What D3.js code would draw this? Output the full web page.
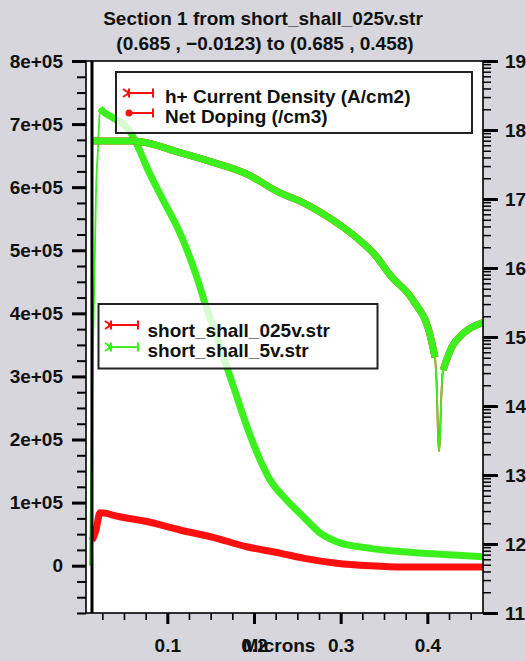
<!DOCTYPE html>
<html><head><meta charset="utf-8">
<script src="https://cdn.jsdelivr.net/npm/d3@7"></script>
<style>
body{margin:0;background:#d6d6dc;}
svg{display:block;font-family:"Liberation Sans",Arial,sans-serif;font-weight:bold;}
</style></head><body>
<svg id="c" width="526" height="661"></svg>
<script>
// ---------------- data ----------------
const titleLines = ["Section 1 from short_shall_025v.str", "(0.685 , \u22120.0123) to (0.685 , 0.458)"];
const xLabel = "Microns";
const xRange = [0.0062, 0.4642];
const xMajorTicks = [0.1, 0.2, 0.3, 0.4];
const xTickLabels = ["0.1", "0.2", "0.3", "0.4"];
const leftRange = [-7.5e4, 8e5];
const leftTicks = [0, 1e5, 2e5, 3e5, 4e5, 5e5, 6e5, 7e5, 8e5];
const leftTickLabels = ["0", "1e+05", "2e+05", "3e+05", "4e+05", "5e+05", "6e+05", "7e+05", "8e+05"];
const rightRange = [1e11, 1e19];
const rightTicks = [1e11, 1e12, 1e13, 1e14, 1e15, 1e16, 1e17, 1e18, 1e19];
const rightTickLabels = ["11", "12", "13", "14", "15", "16", "17", "18", "19"];
const interfaceX = 0.0131;

const quantityNames = ["h+ Current Density (A/cm2)", "Net Doping (/cm3)"];
const fileNames = ["short_shall_025v.str", "short_shall_5v.str"];

// h+ current density, short_shall_025v.str (A/cm2)
const cur025X = [0.0131, 0.0175, 0.0224, 0.0300, 0.0374, 0.0762, 0.1147, 0.1527, 0.1916, 0.2300, 0.2566, 0.2955, 0.3339, 0.3720, 0.4108, 0.4642];
const cur025V = [4.0e4, 5.5e4, 8.4e4, 8.3e4, 8.0e4, 7.0e4, 5.66e4, 4.5e4, 3.0e4, 2.0e4, 1.2e4, 0.4e4, 0, -0.2e4, -0.2e4, -0.2e4];
// h+ current density, short_shall_5v.str (A/cm2)
const cur5X = [0.0108, 0.0143, 0.0160, 0.0177, 0.0200, 0.0224, 0.0258, 0.0374, 0.0570, 0.0662, 0.0762, 0.0950, 0.1147, 0.1339, 0.1435, 0.1570, 0.1758, 0.1954, 0.2185, 0.2377, 0.2566, 0.2762, 0.2955, 0.3339, 0.3720, 0.4108, 0.4642];
const cur5V = [0, 3.5e5, 4.6e5, 5.9e5, 6.6e5, 7.25e5, 7.2e5, 7.1e5, 6.88e5, 6.64e5, 6.32e5, 5.8e5, 5.27e5, 4.58e5, 4.16e5, 3.63e5, 2.86e5, 2.07e5, 1.36e5, 1.04e5, 0.78e5, 0.52e5, 0.38e5, 0.275e5, 0.22e5, 0.185e5, 0.14e5];
// net doping (|/cm3|), same for both files
const dopX = [0.0143, 0.0604, 0.1147, 0.1527, 0.1916, 0.2300, 0.2531, 0.2762, 0.2993, 0.3223, 0.3396, 0.3570, 0.3835, 0.4031, 0.4088, 0.4111, 0.4123, 0.4135, 0.4146, 0.4158, 0.4181, 0.4281, 0.4412, 0.4642];
const dopV = [6.9e17, 6.9e17, 4.7e17, 3.4e17, 2.3e17, 1.23e17, 9.3e16, 6.5e16, 4.2e16, 2.5e16, 1.55e16, 7.9e15, 3.4e15, 1.07e15, 5.1e14, 1.5e14, 3.8e13, 2.2e13, 3.5e13, 1.07e14, 3.3e14, 7.1e14, 1.12e15, 1.62e15];

// ---------------- drawing ----------------
const RED = "#ff1010", GREEN = "#3cf01e";
const svg = d3.select("#c");
const P = {l: 86, r: 483, t: 61, b: 613};

const x = d3.scaleLinear().domain(xRange).range([P.l, P.r]);
const yL = d3.scaleLinear().domain(leftRange).range([P.b, P.t]);
const yR = d3.scaleLog().domain(rightRange).range([P.b, P.t]);

svg.append("rect").attr("width", 526).attr("height", 661).attr("fill", "#d6d6dc");
svg.append("rect").attr("x", P.l).attr("y", P.t).attr("width", P.r - P.l).attr("height", P.b - P.t).attr("fill", "#fff");

svg.append("clipPath").attr("id", "clip").append("rect")
  .attr("x", P.l).attr("y", P.t).attr("width", P.r - P.l).attr("height", P.b - P.t);
const g = svg.append("g").attr("clip-path", "url(#clip)");

function drawSeries(xs, vs, ys, color) {
  const pts = xs.map((d, i) => [x(d), ys(vs[i])]);
  const line = d3.line().curve(d3.curveMonotoneX);
  g.append("path").attr("d", line(pts)).attr("fill", "none")
    .attr("stroke", color).attr("stroke-width", 1.8);
  let run = [];
  const flush = () => {
    if (run.length > 1) g.append("path").attr("d", line(run)).attr("fill", "none")
      .attr("stroke", color).attr("stroke-width", 7).attr("stroke-linejoin", "round").attr("stroke-linecap", "butt");
    run = [];
  };
  for (let i = 0; i < pts.length - 1; i++) {
    const dx = pts[i + 1][0] - pts[i][0], dy = Math.abs(pts[i + 1][1] - pts[i][1]);
    if (dy / dx < 6) { if (!run.length) run.push(pts[i]); run.push(pts[i + 1]); }
    else flush();
  }
  flush();
}

drawSeries(cur025X, cur025V, yL, RED);
drawSeries(cur5X, cur5V, yL, GREEN);
drawSeries(dopX, dopV, yR, RED);
drawSeries(dopX, dopV, yR, GREEN);

// interface line
svg.append("line").attr("x1", x(interfaceX)).attr("x2", x(interfaceX)).attr("y1", P.t).attr("y2", P.b)
  .attr("stroke", "#000").attr("stroke-width", 3);

// frame
svg.append("rect").attr("x", P.l).attr("y", P.t).attr("width", P.r - P.l).attr("height", P.b - P.t)
  .attr("fill", "none").attr("stroke", "#000").attr("stroke-width", 1.6);

function styleAxis(sel, majorW) {
  sel.select(".domain").remove();
  sel.selectAll(".tick line").attr("stroke", "#000").attr("stroke-width", majorW);
  sel.selectAll("text").attr("font-size", 19).attr("font-weight", "bold")
    .attr("font-family", '"Liberation Sans",Arial,sans-serif').attr("fill", "#111");
}

// left axis
const leftMinor = d3.range(-7.5e4, 8e5 + 1, 2.5e4).filter(v => Math.abs(v % 1e5) > 1);
svg.append("g").attr("transform", `translate(${P.l},0)`)
  .call(d3.axisLeft(yL).tickValues(leftMinor).tickSize(9).tickFormat(""))
  .call(s => styleAxis(s, 2));
svg.append("g").attr("transform", `translate(${P.l},0)`)
  .call(d3.axisLeft(yL).tickValues(leftTicks).tickSize(14).tickPadding(9)
    .tickFormat((d, i) => leftTickLabels[i]))
  .call(s => styleAxis(s, 3));

// right axis (log)
const rightMinor = [];
for (let e = 11; e < 19; e++) for (let m = 2; m <= 9; m++) rightMinor.push(m * Math.pow(10, e));
svg.append("g").attr("transform", `translate(${P.r},0)`)
  .call(d3.axisRight(yR).tickValues(rightMinor).tickSize(8).tickFormat(""))
  .call(s => styleAxis(s, 1.5));
svg.append("g").attr("transform", `translate(${P.r},0)`)
  .call(d3.axisRight(yR).tickValues(rightTicks).tickSize(15).tickPadding(7)
    .tickFormat((d, i) => rightTickLabels[i]))
  .call(s => styleAxis(s, 3));

// bottom axis
const xMinor = d3.range(0.025, 0.4642, 0.025).filter(v => Math.abs(v * 10 - Math.round(v * 10)) > 1e-6);
svg.append("g").attr("transform", `translate(0,${P.b})`)
  .call(d3.axisBottom(x).tickValues(xMinor).tickSize(7).tickFormat(""))
  .call(s => styleAxis(s, 1.6));
svg.append("g").attr("transform", `translate(0,${P.b})`)
  .call(d3.axisBottom(x).tickValues(xMajorTicks).tickSize(11).tickPadding(14.5)
    .tickFormat((d, i) => xTickLabels[i]))
  .call(s => styleAxis(s, 3));

const T = (xx, yy, s, anchor) => svg.append("text").attr("x", xx).attr("y", yy).text(s)
  .attr("font-size", 19).attr("fill", "#111").attr("text-anchor", anchor || "start");

T(279, 652, xLabel, "middle");
T(263, 25, titleLines[0], "middle");
T(265, 50, titleLines[1], "middle");

// legends
function legendBox(x0, y0, x1, y1) {
  svg.append("rect").attr("x", x0).attr("y", y0).attr("width", x1 - x0).attr("height", y1 - y0)
    .attr("fill", "#fff").attr("fill-opacity", 0.8).attr("stroke", "#222").attr("stroke-width", 2);
}
function capBar(cx, cy, color) {
  svg.append("line").attr("x1", cx).attr("x2", cx).attr("y1", cy - 4.5).attr("y2", cy + 4.5)
    .attr("stroke", color).attr("stroke-width", 2);
}
function capX(cx, cy, color) {
  svg.append("path").attr("d", `M${cx - 4},${cy - 4}L${cx + 2},${cy}L${cx - 4},${cy + 4}`)
    .attr("fill", "none").attr("stroke", color).attr("stroke-width", 2);
  capBar(cx + 2, cy, color);
}
function legLine(x0, x1, cy, color) {
  svg.append("line").attr("x1", x0).attr("x2", x1).attr("y1", cy).attr("y2", cy)
    .attr("stroke", color).attr("stroke-width", 2);
}

legendBox(116, 72, 472, 133);
legLine(127, 153, 93, RED); capX(127, 93, RED); capBar(153, 93, RED);
T(165, 102.5, quantityNames[0]);
legLine(128, 153, 113, RED);
svg.append("circle").attr("cx", 129).attr("cy", 113).attr("r", 3.5).attr("fill", RED);
capBar(153, 113, RED);
T(165, 123, quantityNames[1]);

legendBox(98.5, 304, 377.5, 368.5);
const legColors = [RED, GREEN];
[325, 347].forEach((cy, i) => {
  legLine(108, 138, cy, legColors[i]); capX(109, cy, legColors[i]); capBar(138, cy, legColors[i]);
});
T(147.5, 336.5, fileNames[0]);
T(147.5, 357, fileNames[1]);
</script>
</body></html>
